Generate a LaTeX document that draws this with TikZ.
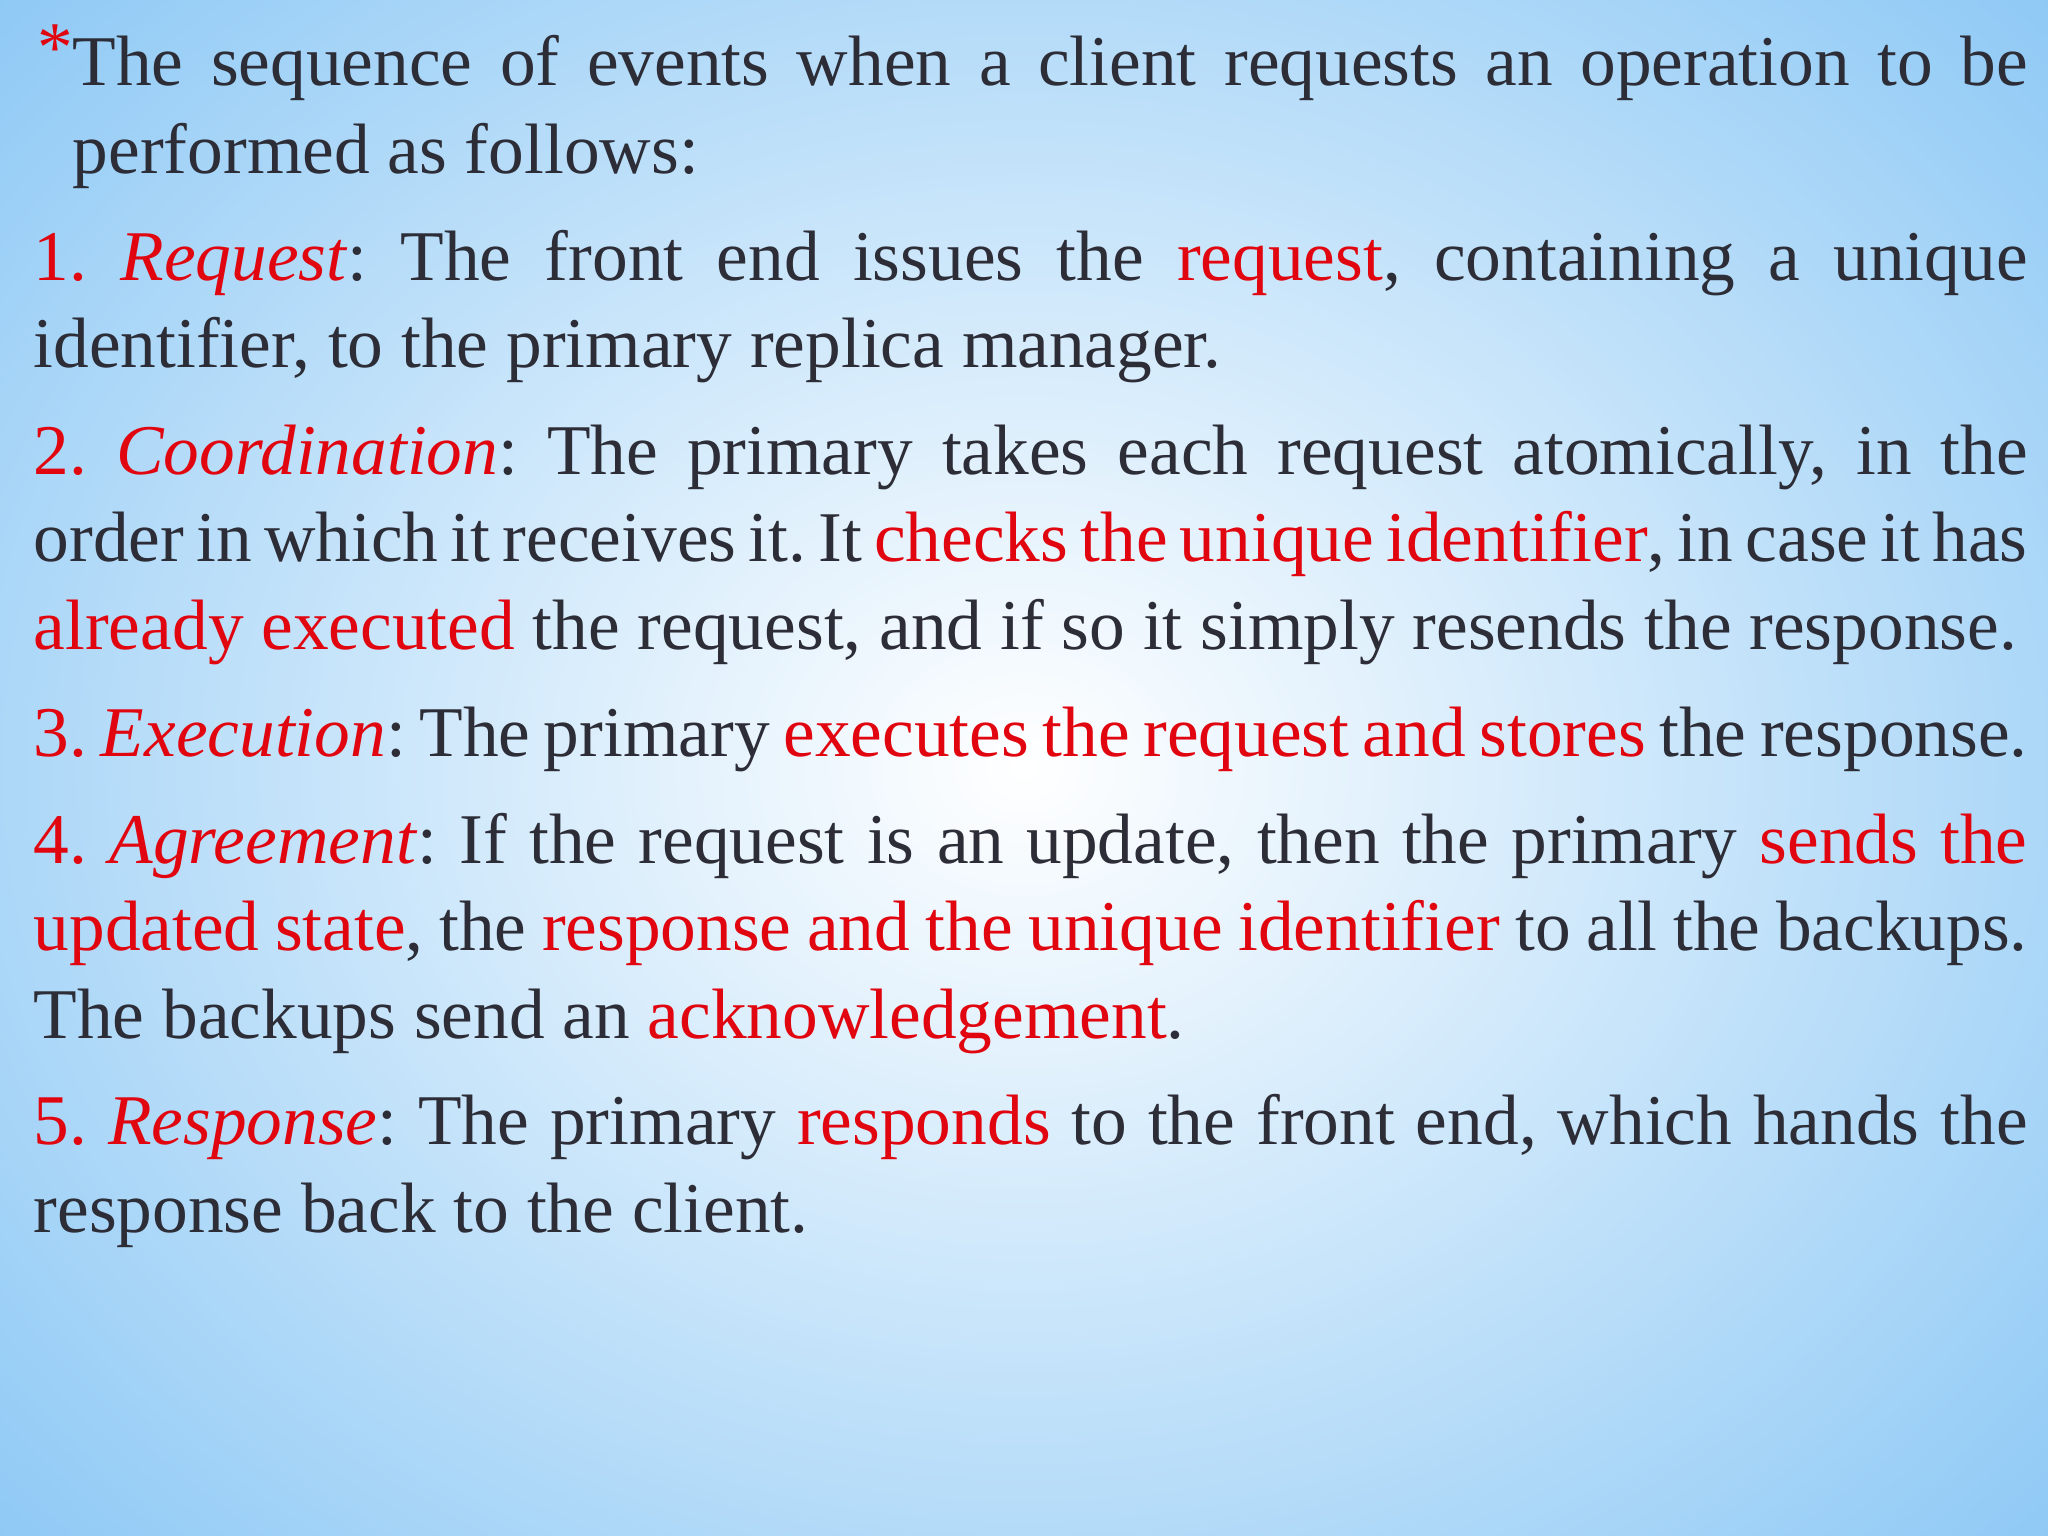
\documentclass[tikz,border=0pt]{standalone}
\usepackage{fontspec}
\setmainfont{Liberation Serif}
\definecolor{txt}{RGB}{45,45,55}
\definecolor{rd}{RGB}{225,5,15}
\definecolor{sky}{RGB}{140,200,245}
\newcommand{\R}[1]{\textcolor{rd}{#1}}
\begin{document}
\begin{tikzpicture}
\path[use as bounding box] (0,0) rectangle (20.48,-15.36);
\shade[inner color=white, outer color=sky] (-4,4) rectangle (24.48,-19.36);
\node (body) [anchor=north west, inner sep=0pt, text width=19.94cm, text=txt, font=\fontsize{20.3pt}{24.9pt}\selectfont, align=justify] at (0.33,-0.24) {%
\hyphenpenalty=10000\exhyphenpenalty=10000\frenchspacing%
\setlength{\parskip}{5.5pt}%
{\leftskip=0.39cm\noindent\llap{\textcolor{rd}{\raisebox{0.2em}{*}}}The sequence of events when a client requests an operation to be performed as follows:\par}
\noindent\R{1. \textit{Request}}: The front end issues the \R{request}, containing a unique identifier, to the primary replica manager.\par
\noindent\R{2. \textit{Coordination}}: The primary takes each request atomically, in the order in which it receives it. It \R{checks the unique identifier}, in case it has \R{already executed} the request, and if so it simply resends the response.\par
\noindent\R{3. \textit{Execution}}: The primary \R{executes the request and stores} the response.\par
\noindent\R{4. \textit{Agreement}}: If the request is an update, then the primary \R{sends the updated state}, the \R{response and the unique identifier} to all the backups. The backups send an \R{acknowledgement}.\par
\noindent\R{5. \textit{Response}}: The primary \R{responds} to the front end, which hands the response back to the client.\par};
\end{tikzpicture}
\end{document}
